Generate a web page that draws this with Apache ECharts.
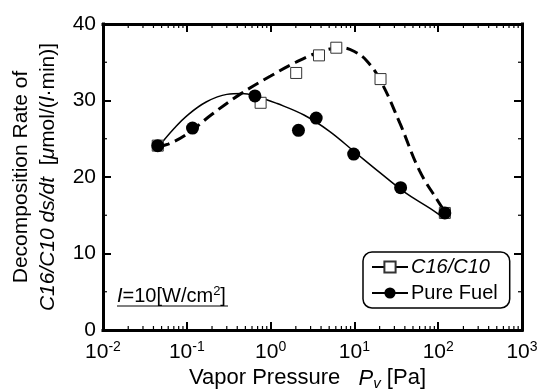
<!DOCTYPE html>
<html>
<head>
<meta charset="utf-8">
<script src="https://cdn.jsdelivr.net/npm/echarts@6/dist/echarts.min.js"></script>
<style>
html,body{margin:0;padding:0;background:#fff;}
#c{width:539px;height:391px;}
</style>
</head>
<body>
<div id="c"></div>
<script>
// ---- data ----
const seriesNames = ['C16/C10', 'Pure Fuel'];
// measured points: [vapor pressure Pa, decomposition rate]
const c16Points = [[0.045, 24.1], [0.76, 29.7], [2.02, 33.6], [3.78, 35.9], [6.08, 36.9], [20.5, 32.8], [120, 15.3]];
const pureFuelPoints = [[0.045, 24.1], [0.117, 26.4], [0.65, 30.6], [2.15, 26.1], [3.5, 27.7], [9.8, 23.0], [35.6, 18.6], [120, 15.3]];
// fitted curves
const c16Curve = [[0.045, 24.0], [0.06, 24.3], [0.1, 25.6], [0.2, 28.2], [0.43, 30.8], [1.0, 33.2], [2.0, 35.0], [4.0, 36.4], [7.0, 36.9], [10, 36.4], [14, 35.2], [20.5, 32.6], [35, 27.0], [60, 20.8], [100, 16.8], [125, 15.2]];
const pureFuelCurve = [[0.048, 24.2], [0.07, 26.3], [0.1, 28.0], [0.17, 29.8], [0.3, 30.8], [0.45, 30.9], [0.7, 30.5], [1.2, 29.6], [2.5, 28.1], [5, 26.0], [10, 23.3], [20, 20.6], [40, 18.0], [80, 15.9], [118, 14.6]];
const xTickExponents = ['-2', '-1', '0', '1', '2', '3'];
const yTicks = [0, 10, 20, 30, 40];
const yMinorTicks = [5, 15, 25, 35];
const xDecades = [0.01, 0.1, 1, 10, 100];
const xMinorMultipliers = [2, 3, 4, 5, 6, 7, 8, 9];

const FONT = 'Liberation Sans, Arial, Helvetica, sans-serif';
const chart = echarts.init(document.getElementById('c'), null, {renderer: 'canvas'});

const xMinorTicks = [];
xDecades.forEach(function (d) { xMinorMultipliers.forEach(function (m) { xMinorTicks.push([+(d * m).toPrecision(3), 0]); }); });
const yMinorData = yMinorTicks.map(function (v) { return [1, v]; });

const axisLineStyle = {color: '#000', width: 3, cap: 'square'};
function xAxisCfg(pos, showLabel) {
  return {
    type: 'log', logBase: 10, min: 0.01, max: 1000, position: pos,
    axisLine: {show: true, onZero: false, lineStyle: axisLineStyle},
    axisTick: {show: true, inside: true, length: 8, lineStyle: {color: '#000', width: 2}},
    minorTick: {show: false},
    splitLine: {show: false}, minorSplitLine: {show: false},
    axisLabel: {
      show: showLabel, margin: 10, color: '#000', fontFamily: FONT,
      formatter: function (v) {
        const i = Math.round(Math.log10(v)) + 2;
        return '{b|10}{s|' + xTickExponents[i] + '}';
      },
      rich: {
        b: {fontSize: 21, lineHeight: 24, fontFamily: FONT, color: '#000'},
        s: {fontSize: 14, lineHeight: 13, verticalAlign: 'top', fontFamily: FONT, color: '#000'}
      }
    }
  };
}
function yAxisCfg(pos, showLabel) {
  return {
    type: 'value', min: 0, max: 40, interval: 10, position: pos,
    axisLine: {show: true, onZero: false, lineStyle: axisLineStyle},
    axisTick: {show: true, inside: true, length: 8, lineStyle: {color: '#000', width: 2}},
    minorTick: {show: false},
    splitLine: {show: false},
    axisLabel: {show: showLabel, margin: 7, color: '#000', fontSize: 21, fontFamily: FONT,
      formatter: function (v) { return yTicks.indexOf(v) >= 0 ? String(v) : ''; }}
  };
}

const xBottom = xAxisCfg('bottom', true);
xBottom.name = '{n|Vapor Pressure   }{i|P}{v|v}{n| [Pa]}';
xBottom.nameLocation = 'middle';
xBottom.nameGap = 34;
xBottom.nameTextStyle = {
  color: '#000', fontFamily: FONT, padding: [0, 10, 0, 0],
  rich: {
    n: {fontSize: 22, lineHeight: 26, fontFamily: FONT, color: '#000'},
    i: {fontSize: 22, lineHeight: 26, fontStyle: 'italic', fontFamily: FONT, color: '#000'},
    v: {fontSize: 15, lineHeight: 14, verticalAlign: 'bottom', fontStyle: 'italic', fontFamily: FONT, color: '#000'}
  }
};
const xTop = xAxisCfg('top', false);

const yLeft = yAxisCfg('left', true);
yLeft.name = 'Decomposition Rate of\n{it|C16/C10 ds/dt}  [{it|μ}mol/({it|l}·min)]';
yLeft.nameLocation = 'middle';
yLeft.nameRotate = 90;
yLeft.nameGap = 40;
yLeft.nameTextStyle = {
  color: '#000', fontFamily: FONT, fontSize: 21, lineHeight: 27,
  rich: {it: {fontStyle: 'italic', fontSize: 21, lineHeight: 27, fontFamily: FONT, color: '#000'}}
};
const yRight = yAxisCfg('right', false);

function tickLine(x1, y1, x2, y2) {
  return {type: 'line', shape: {x1: x1, y1: y1, x2: x2, y2: y2}, style: {stroke: '#000', lineWidth: 1.2}};
}

const option = {
  animation: false,
  backgroundColor: '#fff',
  textStyle: {fontFamily: FONT},
  grid: {left: 103, right: 17, top: 24, bottom: 61, containLabel: false, outerBoundsMode: 'none'},
  xAxis: [xBottom, xTop],
  yAxis: [yLeft, yRight],
  legend: {
    left: 363, top: 252, orient: 'vertical',
    data: [
      {name: seriesNames[0], lineStyle: {color: '#000', width: 2, type: 'solid', opacity: 1}},
      {name: seriesNames[1], lineStyle: {color: '#000', width: 2, type: 'solid', opacity: 1}}
    ],
    itemWidth: 36, itemHeight: 14, itemGap: 4,
    padding: [4, 12, 4, 8],
    borderColor: '#000', borderWidth: 1.5, borderRadius: 9,
    selectedMode: false,
    formatter: function (name) { return name === seriesNames[0] ? '{it|' + name + '}' : name; },
    textStyle: {color: '#000', fontSize: 20, fontFamily: FONT, lineHeight: 22, padding: [0, 0, 0, -2],
      rich: {it: {fontStyle: 'italic', fontSize: 20, fontFamily: FONT, color: '#000'}}}
  },
  series: [
    {name: 'xMinor', type: 'custom', data: xMinorTicks, silent: true, clip: false, z: 5,
      renderItem: function (params, api) {
        const x = api.value(0);
        const pb = api.coord([x, 0]);
        const pt = api.coord([x, 40]);
        return {type: 'group', children: [tickLine(pb[0], pb[1], pb[0], pb[1] - 4), tickLine(pt[0], pt[1], pt[0], pt[1] + 4)]};
      }},
    {name: 'yMinor', type: 'custom', data: yMinorData, silent: true, clip: false, z: 5,
      renderItem: function (params, api) {
        const y = api.value(1);
        const pl = api.coord([0.01, y]);
        const pr = api.coord([1000, y]);
        return {type: 'group', children: [tickLine(pl[0], pl[1], pl[0] + 4, pl[1]), tickLine(pr[0], pr[1], pr[0] - 4, pr[1])]};
      }},
    {name: 'C16/C10 fit', type: 'line', data: c16Curve, smooth: 0.4, symbol: 'none', silent: true,
      lineStyle: {color: '#000', width: 3, type: [12, 6]}, z: 2},
    {name: 'Pure Fuel fit', type: 'line', data: pureFuelCurve, smooth: 0.4, symbol: 'none', silent: true,
      lineStyle: {color: '#000', width: 1.5, type: 'solid'}, z: 2},
    {name: seriesNames[0], type: 'line', data: c16Points, symbol: 'rect', symbolSize: 11, showSymbol: true,
      lineStyle: {opacity: 0}, itemStyle: {color: '#fff', borderColor: '#333', borderWidth: 1}, z: 3},
    {name: seriesNames[1], type: 'line', data: pureFuelPoints, symbol: 'circle', symbolSize: 13, showSymbol: true,
      lineStyle: {opacity: 0}, itemStyle: {color: '#000', borderColor: '#000', borderWidth: 0}, z: 4}
  ],
  graphic: [
    {type: 'text', left: 117, top: 285, z: 10,
      style: {
        text: '{i|I}=10[W/cm{s|2}]', fill: '#000', fontSize: 20, fontFamily: FONT,
        rich: {
          i: {fontStyle: 'italic', fontSize: 20, lineHeight: 22, fontFamily: FONT},
          s: {fontSize: 13, lineHeight: 13, verticalAlign: 'top', fontFamily: FONT}
        }
      }},
    {type: 'line', z: 10, shape: {x1: 117, y1: 306, x2: 228, y2: 306}, style: {stroke: '#000', lineWidth: 1.2}}
  ]
};
chart.setOption(option);
</script>
</body>
</html>
